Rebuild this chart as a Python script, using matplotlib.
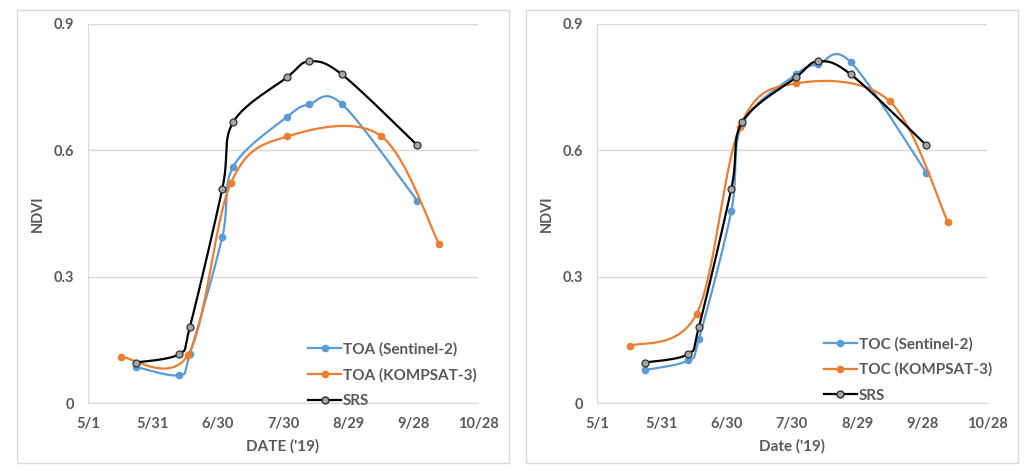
import numpy as np
import matplotlib
matplotlib.use("Agg")
import matplotlib.pyplot as plt
from matplotlib.patches import Rectangle

# day-of-year of the acquisition dates ('19)
s2_days = [143, 163, 168, 183, 188, 213, 223, 238, 273]
k3_days = [136, 167, 187, 213, 256, 283]
srs_days = [143, 163, 168, 183, 188, 213, 223, 238, 273]

toa_s2 = [0.086, 0.066, 0.116, 0.395, 0.561, 0.680, 0.709, 0.711, 0.480]
toa_k3 = [0.110, 0.113, 0.523, 0.633, 0.635, 0.378]
toc_s2 = [0.078, 0.101, 0.151, 0.456, 0.662, 0.781, 0.804, 0.810, 0.547]
toc_k3 = [0.135, 0.212, 0.656, 0.759, 0.717, 0.429]
srs = [0.096, 0.116, 0.180, 0.509, 0.667, 0.774, 0.811, 0.781, 0.612]

xtick_days = [121, 151, 181, 211, 241, 271, 301]
xtick_labels = ["5/1", "5/31", "6/30", "7/30", "8/29", "9/28", "10/28"]
yticks = [0, 0.3, 0.6, 0.9]
ytick_labels = ["0", "0.3", "0.6", "0.9"]

BLUE = "#5B9BD5"
ORANGE = "#ED7D31"
GRAY_TXT = "#595959"
plt.rcParams['font.family'] = ['Lato', 'DejaVu Sans']


def smooth(x, y, n=30):
    # Excel-like smoothed line (Catmull-Rom bezier), in screen-ish scale
    sx, sy = 2.16, 421.0
    p = np.column_stack([np.array(x) * sx, np.array(y) * sy])
    p = np.vstack([p[0], p, p[-1]])
    out = []
    t = np.linspace(0, 1, n)[:, None]
    for i in range(1, len(p) - 2):
        p0, p1, p2, p3 = p[i - 1], p[i], p[i + 1], p[i + 2]
        b1 = p1 + (p2 - p0) / 6
        b2 = p2 - (p3 - p1) / 6
        seg = ((1 - t) ** 3) * p1 + 3 * ((1 - t) ** 2) * t * b1 + 3 * (1 - t) * t ** 2 * b2 + t ** 3 * p2
        out.append(seg if i == 1 else seg[1:])
    out = np.vstack(out)
    return out[:, 0] / sx, out[:, 1] / sy


fig = plt.figure(figsize=(10.29, 4.73), dpi=100)
W, H = 1029, 473

panels = [
    dict(box=(17, 10, 509, 463), ax=(88, 24, 478, 403), s2=toa_s2, k3=toa_k3,
         names=["TOA (Sentinel-2)", "TOA (KOMPSAT-3)", "SRS"], xlabel="DATE ('19)",
         leg=(1.032, -0.05)),
    dict(box=(526, 10, 1018, 463), ax=(597, 24, 987, 403), s2=toc_s2, k3=toc_k3,
         names=["TOC (Sentinel-2)", "TOC (KOMPSAT-3)", "SRS"], xlabel="Date ('19)",
         leg=(1.048, -0.035)),
]

for pn in panels:
    x0, y0, x1, y1 = pn["box"]
    fig.patches.append(Rectangle((x0 / W, 1 - y1 / H), (x1 - x0) / W, (y1 - y0) / H,
                                 transform=fig.transFigure, fill=False,
                                 edgecolor="#d9d9d9", linewidth=1))
    a0, b0, a1, b1 = pn["ax"]
    ax = fig.add_axes([a0 / W, 1 - b1 / H, (a1 - a0) / W, (b1 - b0) / H])

    sx, sy = smooth(s2_days, pn["s2"])
    ax.plot(sx, sy, color=BLUE, lw=1.6)
    ax.plot(s2_days, pn["s2"], "o", color=BLUE, ms=4.5)
    kx, ky = smooth(k3_days, pn["k3"])
    ax.plot(kx, ky, color=ORANGE, lw=1.6)
    ax.plot(k3_days, pn["k3"], "o", color=ORANGE, ms=4.5)
    rx, ry = smooth(srs_days, srs)
    ax.plot(rx, ry, color="black", lw=1.6)
    ax.plot(srs_days, srs, "o", mfc="#a5a5a5", mec="#303030", mew=0.9, ms=5)

    h1, = ax.plot([], [], "-o", color=BLUE, lw=1.6, ms=4.5)
    h2, = ax.plot([], [], "-o", color=ORANGE, lw=1.6, ms=4.5)
    h3, = ax.plot([], [], "-o", color="black", mfc="#a5a5a5", mec="#303030", lw=1.6, ms=5)
    leg = ax.legend([h1, h2, h3], pn["names"], loc="lower right", frameon=False,
                    bbox_to_anchor=pn["leg"], handlelength=2.2, handletextpad=0.1,
                    labelspacing=0.75, prop=dict(size=11, weight="bold"))
    for t in leg.get_texts():
        t.set_color(GRAY_TXT)

    ax.set_xlim(121, 301)
    ax.set_ylim(0, 0.9)
    ax.set_xticks(xtick_days)
    ax.set_xticklabels(xtick_labels)
    ax.set_yticks(yticks)
    ax.set_yticklabels(ytick_labels)
    ax.tick_params(length=0, labelsize=10.5, colors=GRAY_TXT)
    ax.tick_params(axis="x", pad=10)
    ax.tick_params(axis="y", pad=10)
    for lab in ax.get_xticklabels() + ax.get_yticklabels():
        lab.set_fontweight("bold")
    ax.grid(axis="y", color="#d9d9d9", lw=1)
    for s in ["top", "right"]:
        ax.spines[s].set_visible(False)
    for s in ["left", "bottom"]:
        ax.spines[s].set_color("#d9d9d9")
    ax.set_xlabel(pn["xlabel"], fontsize=11, fontweight="bold", color=GRAY_TXT, labelpad=6)
    ax.set_ylabel("NDVI", fontsize=10.5, fontweight="bold", color=GRAY_TXT, labelpad=6)

fig.savefig("out.png", dpi=100)
